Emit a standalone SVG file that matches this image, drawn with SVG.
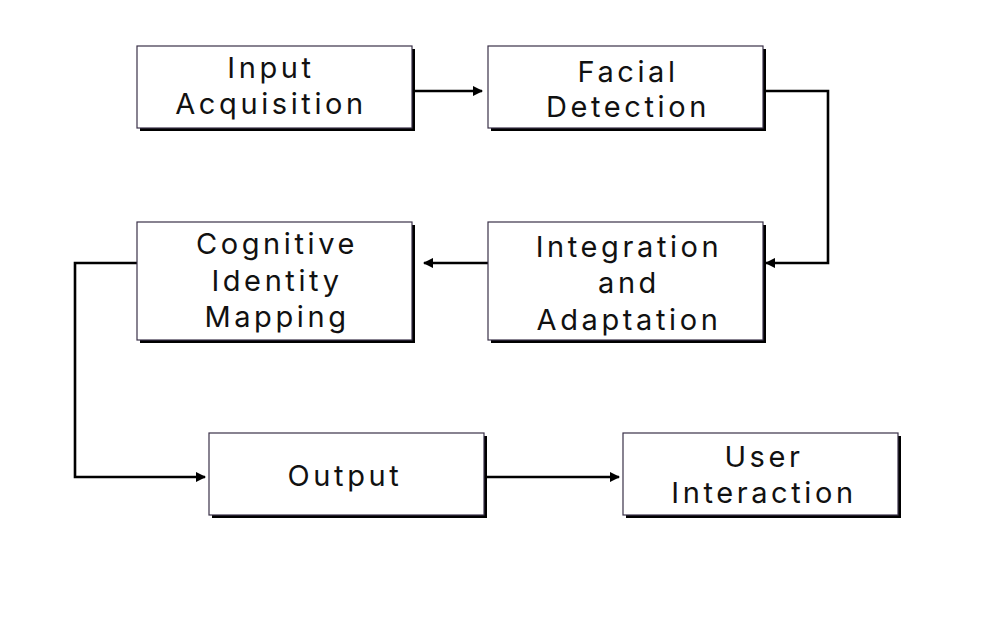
<svg xmlns="http://www.w3.org/2000/svg" width="981" height="643" viewBox="0 0 981 643">
<style>
.box{fill:#ffffff;stroke:#3a3148;stroke-width:1.2}
.sh{fill:#000000}
.t{font-family:Inter,"Noto Sans",sans-serif;font-size:29px;fill:#111111;text-anchor:middle;letter-spacing:3.6px}
.c{fill:none;stroke:#000000;stroke-width:2.6;marker-end:url(#ah)}
</style>
<defs>
<marker id="ah" viewBox="0 0 10 10" refX="9" refY="5" markerWidth="4" markerHeight="4" orient="auto" markerUnits="strokeWidth">
<path d="M0,0 L10,5 L0,10 z" fill="#000000"/>
</marker>
</defs>
<rect width="981" height="643" fill="#ffffff"/>
<g id="connectors">
<path class="c" d="M415,91 H482"/>
<path class="c" d="M766,91 H828 V263 H766"/>
<path class="c" d="M488,263 H424"/>
<path class="c" d="M137,263 H75 V477 H205"/>
<path class="c" d="M487,477 H619"/>
</g>
<g id="n1">
<rect class="sh" x="140" y="49" width="275" height="82"/>
<rect class="box" x="137" y="46" width="275" height="82"/>
<text class="t" x="271" y="78">Input</text>
<text class="t" x="271" y="114">Acquisition</text>
</g>
<g id="n2">
<rect class="sh" x="491" y="49" width="275" height="82"/>
<rect class="box" x="488" y="46" width="275" height="82"/>
<text class="t" x="628" y="82">Facial</text>
<text class="t" x="628" y="117">Detection</text>
</g>
<g id="n3">
<rect class="sh" x="491" y="225" width="275" height="118"/>
<rect class="box" x="488" y="222" width="275" height="118"/>
<text class="t" x="629" y="257">Integration</text>
<text class="t" x="629" y="293">and</text>
<text class="t" x="629" y="330">Adaptation</text>
</g>
<g id="n4">
<rect class="sh" x="140" y="225" width="275" height="118"/>
<rect class="box" x="137" y="222" width="275" height="118"/>
<text class="t" x="277" y="254">Cognitive</text>
<text class="t" x="277" y="291">Identity</text>
<text class="t" x="277" y="327">Mapping</text>
</g>
<g id="n5">
<rect class="sh" x="212" y="436" width="275" height="82"/>
<rect class="box" x="209" y="433" width="275" height="82"/>
<text class="t" x="345" y="486">Output</text>
</g>
<g id="n6">
<rect class="sh" x="626" y="436" width="275" height="82"/>
<rect class="box" x="623" y="433" width="275" height="82"/>
<text class="t" x="764" y="467">User</text>
<text class="t" x="764" y="503">Interaction</text>
</g>
</svg>
